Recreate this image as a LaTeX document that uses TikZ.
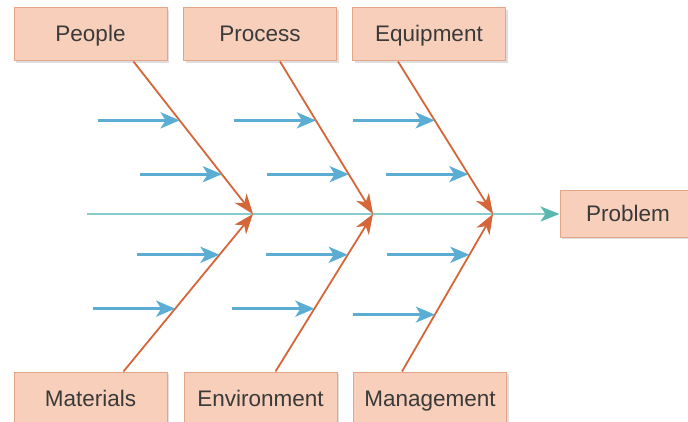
\documentclass[tikz,border=0pt]{standalone}
\usepackage{fontspec}
\setmainfont{Liberation Sans}
\usetikzlibrary{arrows.meta,shadows}
\definecolor{boxfill}{HTML}{F7CFBA}
\definecolor{boxline}{HTML}{E3A585}
\definecolor{textgray}{HTML}{3A3A3A}
\definecolor{bonecol}{HTML}{D4663A}
\definecolor{twigcol}{HTML}{5BADD3}
\definecolor{spinecol}{HTML}{8ACBCB}
\definecolor{spinetip}{HTML}{58B7AE}
\begin{document}
\begin{tikzpicture}[x=1pt,y=-1pt,font=\fontsize{22.5}{27}\selectfont]
  \tikzstyle{cause}=[draw=boxline,fill=boxfill,text=textgray,line width=1pt,
    minimum width=153pt,minimum height=53pt,inner sep=0pt,
    text height=15pt,text depth=0pt,
    drop shadow={shadow xshift=2pt,shadow yshift=-2pt,fill=black!25,opacity=.5}]
  \tikzstyle{bone}=[bonecol,line width=1.8pt,-{Stealth[length=20pt,width=15pt,inset=6pt]}]
  \tikzstyle{twig}=[twigcol,line width=2.8pt,-{Stealth[length=19pt,width=16pt,inset=5pt]}]
  \tikzstyle{spine}=[spinecol,line width=2pt,-{Stealth[length=19pt,width=15pt,inset=5pt,color=spinetip]}]

  \useasboundingbox (0,0) rectangle (688,422);

  % causes
  \node[cause] (people)    at (90.5,34.5)  {People};
  \node[cause] (process)   at (260,34.5)   {Process};
  \node[cause] (equip)     at (429,34.5)   {Equipment};
  \node[cause] (materials) at (90.5,398.5) {Materials};
  \node[cause] (environ)   at (260.5,398.5){Environment};
  \node[cause] (manage)    at (430,398.5)  {Management};
  \node[cause,minimum width=136pt,minimum height=47pt] (problem) at (628,214) {Problem};

  \coordinate (tail) at (87,214);
  \coordinate (j1) at (253,214);
  \coordinate (j2) at (373,214);
  \coordinate (j3) at (493,214);

  % spine
  \draw[spine] (tail) -- (problem);

  % bones
  \draw[bone] ([xshift=43pt]people.south) -- (j1) coordinate[pos=.386] (a1) coordinate[pos=.739] (a2);
  \draw[bone] ([xshift=20pt]process.south) -- (j2) coordinate[pos=.386] (b1) coordinate[pos=.739] (b2);
  \draw[bone] ([xshift=-31pt]equip.south) -- (j3) coordinate[pos=.386] (c1) coordinate[pos=.739] (c2);
  \draw[bone] ([xshift=33pt]materials.north) -- (j1) coordinate[pos=.741] (a3) coordinate[pos=.399] (a4);
  \draw[bone] ([xshift=15pt]environ.north) -- (j2) coordinate[pos=.741] (b3) coordinate[pos=.399] (b4);
  \draw[bone] ([xshift=-28pt]manage.north) -- (j3) coordinate[pos=.741] (c3) coordinate[pos=.361] (c4);

  % sub-causes
  \foreach \p in {a1,a2,a3,a4,b1,b2,b3,b4,c1,c2,c3,c4}
    \draw[twig] ([xshift=-82pt]\p) -- (\p);

\end{tikzpicture}
\end{document}
